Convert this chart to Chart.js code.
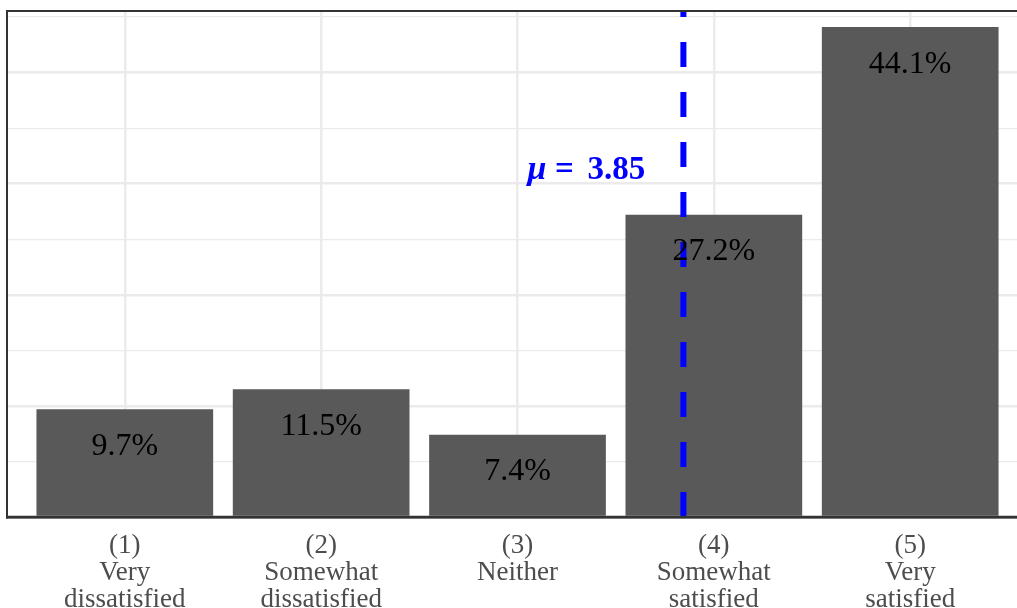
<!DOCTYPE html>
<html>
<head>
<meta charset="utf-8">
<script src="https://cdn.jsdelivr.net/npm/chart.js@4.4.0/dist/chart.umd.min.js"></script>
<style>
  html, body { margin: 0; padding: 0; overflow: hidden; background: #fff; }
  #wrap { position: absolute; left: 0; top: 0; width: 1028px; height: 628px; }
</style>
</head>
<body>
<div id="wrap"><canvas id="satisfaction-chart"></canvas></div>
<script>
const categoryCodes = ['(1)', '(2)', '(3)', '(4)', '(5)'];
const categoryNames = [
    ['Very', 'dissatisfied'],
    ['Somewhat', 'dissatisfied'],
    ['Neither'],
    ['Somewhat', 'satisfied'],
    ['Very', 'satisfied']
];
const shares = [9.7, 11.5, 7.4, 27.2, 44.1];
const meanScore = 3.85;
const yGridValues = [0, 5, 10, 15, 20, 25, 30, 35, 40, 45];

const serif = '"Liberation Serif", "Times New Roman", serif';

const overlayPlugin = {
    id: 'overlay',
    afterDatasetsDraw(chart) {
        const {ctx, chartArea, scales: {x, y}} = chart;

        // dashed mean line
        const mx = x.getPixelForValue(meanScore) - 1;
        ctx.save();
        ctx.beginPath();
        ctx.rect(chartArea.left, chartArea.top, chartArea.right - chartArea.left, chartArea.bottom - chartArea.top);
        ctx.clip();
        ctx.strokeStyle = '#0000ff';
        ctx.lineWidth = 6;
        ctx.setLineDash([25, 25]);
        ctx.beginPath();
        ctx.moveTo(mx, y.getPixelForValue(0));
        ctx.lineTo(mx, chartArea.top);
        ctx.stroke();
        ctx.restore();

        // value labels inside the bars
        ctx.save();
        ctx.fillStyle = '#000';
        ctx.font = '32px ' + serif;
        ctx.textAlign = 'center';
        ctx.textBaseline = 'middle';
        chart.getDatasetMeta(0).data.forEach((bar, i) => {
            ctx.fillText(shares[i].toFixed(1) + '%', bar.x, bar.y + 37);
        });
        ctx.restore();

        // mean label
        ctx.save();
        ctx.fillStyle = '#0000ff';
        ctx.textBaseline = 'middle';
        ctx.textAlign = 'right';
        const lx = x.getPixelForValue(meanScore - 0.2);
        const ly = y.getPixelForValue(31.2);
        const num = meanScore.toFixed(2);
        ctx.font = 'bold 33px ' + serif;
        ctx.fillText(num, lx, ly);
        const numWidth = ctx.measureText(num).width;
        ctx.textAlign = 'center';
        ctx.fillText('=', lx - numWidth - 23, ly);
        ctx.textAlign = 'right';
        ctx.font = 'italic bold 34px ' + serif;
        ctx.fillText('\u03bc', lx - numWidth - 41, ly);
        ctx.restore();

        // frame: top, left, bottom
        ctx.save();
        ctx.strokeStyle = '#333333';
        ctx.lineWidth = 2;
        ctx.beginPath();
        ctx.moveTo(chartArea.left, chartArea.top);
        ctx.lineTo(chartArea.right, chartArea.top);
        ctx.moveTo(chartArea.left, chartArea.top);
        ctx.lineTo(chartArea.left, chartArea.bottom);
        ctx.stroke();
        ctx.lineWidth = 2.5;
        ctx.beginPath();
        ctx.moveTo(chartArea.left - 1, chartArea.bottom);
        ctx.lineTo(chartArea.right, chartArea.bottom);
        ctx.stroke();
        ctx.restore();
    }
};

new Chart(document.querySelector('#satisfaction-chart').getContext('2d'), {
    type: 'bar',
    data: {
        datasets: [{
            data: shares.map((v, i) => ({x: i + 1, y: v})),
            backgroundColor: '#595959',
            borderWidth: 0,
            barPercentage: 0.9,
            categoryPercentage: 1.0
        }]
    },
    options: {
        responsive: true,
        maintainAspectRatio: false,
        animation: false,
        layout: {padding: {left: 7, top: 11, right: 0, bottom: 0}},
        plugins: {legend: {display: false}, tooltip: {enabled: false}},
        scales: {
            x: {
                type: 'linear',
                min: 0.4,
                max: 5.6,
                offset: false,
                afterBuildTicks: scale => {
                    scale.ticks = categoryCodes.map((c, i) => ({value: i + 1}));
                },
                ticks: {
                    padding: 15,
                    color: '#4d4d4d',
                    font: {family: serif, size: 27, lineHeight: 1.0},
                    maxRotation: 0,
                    callback: (value, index) => [categoryCodes[index], ...categoryNames[index]]
                },
                grid: {color: '#ebebeb', lineWidth: 2.5, drawTicks: false, offset: false},
                border: {display: true, color: '#333333', width: 2.5}
            },
            y: {
                min: 0,
                max: 45.55,
                afterBuildTicks: scale => {
                    scale.ticks = yGridValues.map(v => ({value: v}));
                },
                ticks: {display: false},
                grid: {
                    color: '#ebebeb',
                    lineWidth: ctx => (ctx.tick && ctx.tick.value % 10 === 0) ? 2.5 : 1.3,
                    drawTicks: false
                },
                border: {display: true, color: '#333333', width: 2}
            }
        }
    },
    plugins: [overlayPlugin]
});
</script>
</body>
</html>
